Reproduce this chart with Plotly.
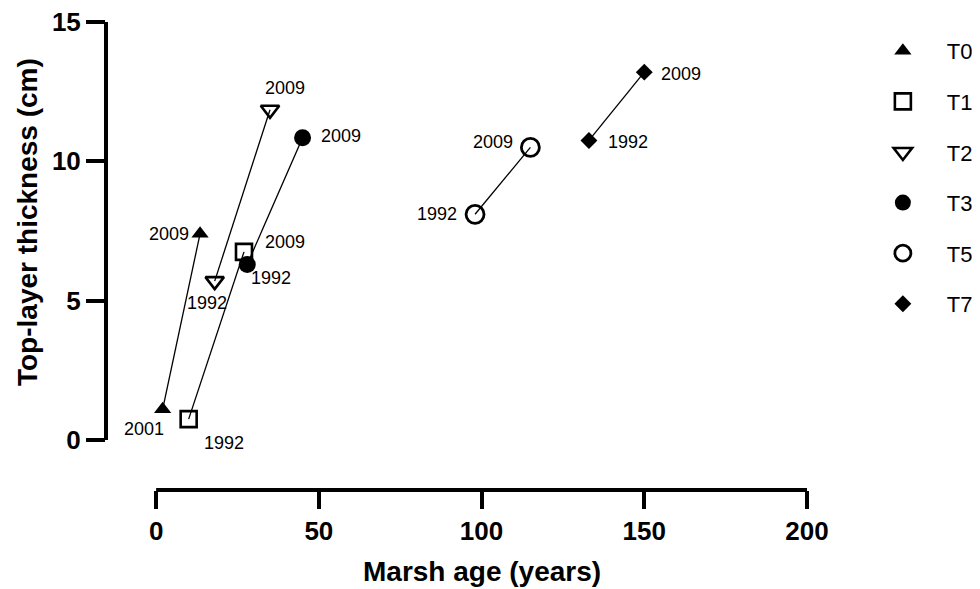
import plotly.graph_objects as go

# ---- data ----
series_names = ["T0", "T1", "T2", "T3", "T5", "T7"]
t0_age = [2, 13.5]
t0_thick = [1.1, 7.4]
t0_year = ["2001", "2009"]
t1_age = [10, 27]
t1_thick = [0.75, 6.75]
t1_year = ["1992", "2009"]
t2_age = [18, 35]
t2_thick = [5.7, 11.85]
t2_year = ["1992", "2009"]
t3_age = [28, 45]
t3_thick = [6.3, 10.85]
t3_year = ["1992", "2009"]
t5_age = [98, 115]
t5_thick = [8.1, 10.5]
t5_year = ["1992", "2009"]
t7_age = [133, 150]
t7_thick = [10.75, 13.2]
t7_year = ["1992", "2009"]
x_ticks = [0, 50, 100, 150, 200]
y_ticks = [0, 5, 10, 15]

ages = [t0_age, t1_age, t2_age, t3_age, t5_age, t7_age]
thicks = [t0_thick, t1_thick, t2_thick, t3_thick, t5_thick, t7_thick]
years = [t0_year, t1_year, t2_year, t3_year, t5_year, t7_year]

# ---- styles ----
marker_styles = [
    dict(symbol="triangle-up", size=15, color="black"),
    dict(symbol="square-open", size=16, color="black", line=dict(width=2.6, color="black")),
    dict(symbol="triangle-down-open", size=16, color="black", line=dict(width=2.6, color="black")),
    dict(symbol="circle", size=17, color="black"),
    dict(symbol="circle-open", size=18, color="black", line=dict(width=2.8, color="black")),
    dict(symbol="diamond", size=13, color="black"),
]
# label offsets in pixels (dx, dy; dy positive = down)
label_offsets = [
    [(-19, 20), (-31, 0)],
    [(35, 24), (41, -10)],
    [(-8, 22), (15, -22)],
    [(24, 14), (38, -2)],
    [(-38, 0), (-37, -5)],
    [(39, 2), (37, 2)],
]

FONT = "Liberation Sans, Arial, Helvetica, sans-serif"

fig = go.Figure()

# connecting lines
for a, t in zip(ages, thicks):
    fig.add_trace(go.Scatter(x=a, y=t, mode="lines", line=dict(color="black", width=1.3),
                             showlegend=False, hoverinfo="skip"))

# markers
for i, (name, a, t) in enumerate(zip(series_names, ages, thicks)):
    fig.add_trace(go.Scatter(x=a, y=t, mode="markers", name=name, marker=marker_styles[i],
                             legendgroup=name))

annotations = []
for i, (a, t, yr) in enumerate(zip(ages, thicks, years)):
    for j in range(len(a)):
        dx, dy = label_offsets[i][j]
        annotations.append(dict(x=a[j], y=t[j], xref="x", yref="y", text=yr[j], showarrow=False,
                                xshift=dx, yshift=-dy, xanchor="center", yanchor="middle",
                                font=dict(family=FONT, size=18, color="black")))

annotations.append(dict(x=100, y=-0.175, xref="x", yref="paper", text="<b>Marsh age (years)</b>",
                        showarrow=False, xanchor="center", yanchor="middle",
                        font=dict(family=FONT, size=28, color="black")))
annotations.append(dict(x=-0.1127, y=0.5726, xref="paper", yref="paper",
                        text="<b>Top-layer thickness (cm)</b>", textangle=-90,
                        showarrow=False, xanchor="center", yanchor="middle",
                        font=dict(family=FONT, size=28, color="black")))

shapes = [
    dict(type="line", xref="x", yref="paper", x0=x_ticks[0], x1=x_ticks[-1], y0=0, y1=0,
         line=dict(color="black", width=4)),
    dict(type="line", xref="paper", yref="y", x0=0, x1=0, y0=y_ticks[0], y1=y_ticks[-1],
         line=dict(color="black", width=4)),
]

# page body has an 8px margin, so the figure is offset by 8px right/down
fig.update_layout(
    width=972, height=581,
    margin=dict(l=98, r=173, t=14, b=99, autoexpand=False),
    plot_bgcolor="white", paper_bgcolor="white",
    font=dict(family=FONT, color="black"),
    annotations=annotations,
    shapes=shapes,
    legend=dict(x=1.074, y=0.983, xanchor="left", yanchor="top",
                font=dict(family=FONT, size=22, color="black"),
                tracegroupgap=19, itemwidth=78, bgcolor="rgba(0,0,0,0)"),
    xaxis=dict(range=[-15.4, 200], tickvals=x_ticks, ticks="outside", ticklen=18, tickwidth=4,
               tickcolor="black", showline=False, showgrid=False, zeroline=False,
               automargin=False, ticklabeloverflow="allow",
               tickfont=dict(family=FONT, size=26, color="black", weight="bold")),
    yaxis=dict(range=[-1.794, 15], tickvals=y_ticks, ticks="outside", ticklen=19, tickwidth=4,
               tickcolor="black", showline=False, showgrid=False, zeroline=False,
               automargin=False, ticklabeloverflow="allow",
               tickfont=dict(family=FONT, size=26, color="black", weight="bold")),
)

fig.write_html("out.html")
